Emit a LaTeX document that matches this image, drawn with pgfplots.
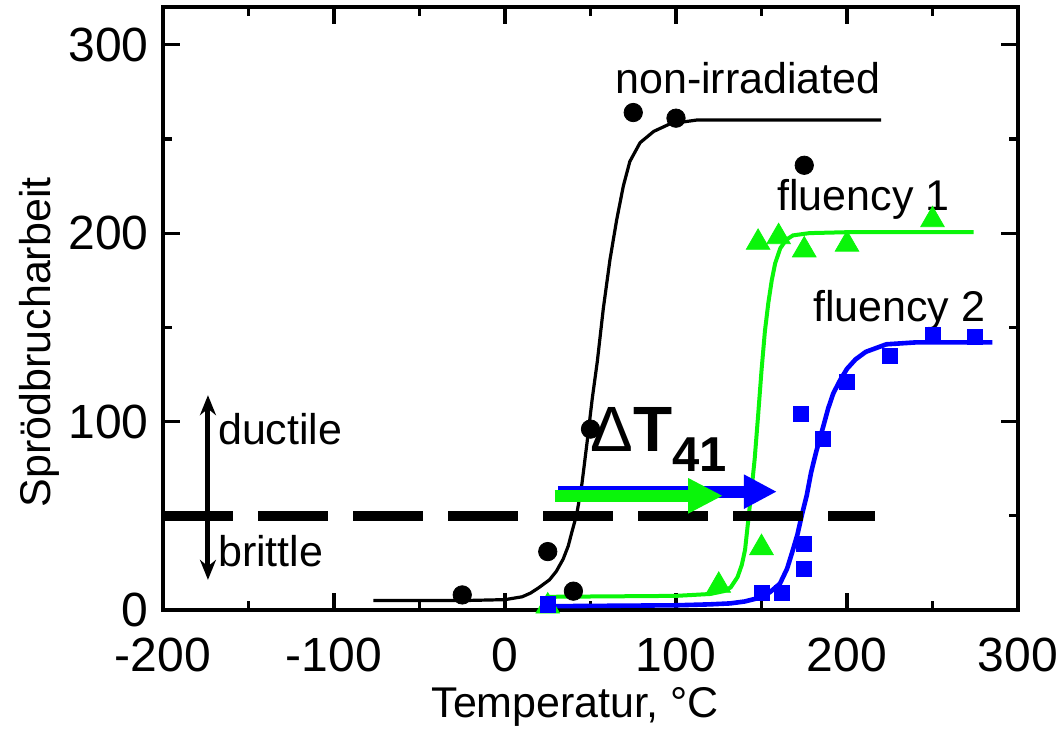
\documentclass[border=0pt]{standalone}
\usepackage{fontspec}
\setmainfont{Liberation Sans}
\usepackage{pgfplots}
\pgfplotsset{compat=1.18}
\usetikzlibrary{arrows.meta}
\definecolor{fgreen}{RGB}{10,245,10}
\definecolor{fblue}{RGB}{0,0,255}
\begin{document}
\begin{tikzpicture}
\path[use as bounding box] (-81.5pt,-59.5pt) rectangle (449pt,305pt);
\begin{axis}[
  at={(0,0)}, anchor=south west,
  scale only axis, width=427.5pt, height=301.5pt,
  xmin=-200, xmax=300, ymin=0, ymax=320,
  clip=false,
  axis line style={line width=2.2pt},
  xtick={-200,-100,0,100,200,300},
  xticklabels={-200,-100,0,100,200,300},
  minor xtick={-150,-50,50,150,250},
  ytick={0,100,200,300},
  yticklabels={0,100,200,300},
  minor ytick={50,150,250},
  tick align=inside,
  major tick length=8.5pt, minor tick length=4.5pt,
  every tick/.style={line width=1.6pt, black},
  xticklabel style={font=\fontsize{24}{24}\selectfont, inner sep=0pt, yshift=-14pt},
  yticklabel style={font=\fontsize{24}{24}\selectfont, inner sep=0pt, xshift=-7pt},
  xlabel={Temperatur, °C},
  xlabel style={at={(axis description cs:0.482,-0.179)}, anchor=base, font=\fontsize{21.5}{21.5}\selectfont, inner sep=0pt},
  ylabel={Sprödbrucharbeit},
  ylabel style={at={(axis description cs:-0.144,0.444)}, anchor=center, font=\fontsize{21.5}{21.5}\selectfont, inner sep=0pt},
]
% black curve (non-irradiated)
\addplot[black, line width=1.6pt] coordinates {
(-77,5) (-25,5) (0,5.5) (10,7) (15,9) (20,12) (26,16) (30,20.5) (34,27) (37,34) (39,41)
(42,51) (45,67) (48,89) (51,112) (54,132) (57.5,160) (61.4,186) (65.3,207) (69.2,225)
(73,238) (79,248) (87,254) (96.5,258) (112,260) (220,260)};
% green curve (fluency 1)
\addplot[fgreen, line width=2pt] coordinates {
(25,7) (100,7.5) (120,8.5) (128,10) (132,12) (136,17.5) (138.5,24) (140.4,32) (142.3,48)
(144.3,65) (146,80) (148,103) (150,127) (152,148) (154,163) (156,175) (158,184) (161,192)
(164.5,196.5) (168.4,198.8) (178,200) (200,200.5) (274,200.5)};
% blue curve (fluency 2)
\addplot[fblue, line width=2.3pt] coordinates {
(25,2) (100,2.5) (120,3) (131.6,3.5) (140,4.5) (149,6.5) (155,9.5) (160.8,14) (165,22)
(168.4,32) (171,40) (173.5,50) (176.5,61) (179,73) (182,84) (186,97) (189,107) (192,115)
(196,122) (200,128) (205,133) (211,137) (223,141) (240,142) (285,142)};
% black circles
\addplot[only marks, mark=*, mark size=4.6pt, black] coordinates {
(-25,8) (25,31) (40,10) (50,96) (75,264) (100,261) (175,236)};
% green triangles
\addplot[only marks, mark=triangle*, mark size=6.8pt, fgreen, mark options={draw=fgreen, fill=fgreen}] coordinates {
(25,2) (125,13) (150,33) (148,195) (160,198) (175,191) (200,194) (250,207)};
% blue squares
\addplot[only marks, mark=square*, mark size=3.8pt, fblue, mark options={draw=fblue, fill=fblue}] coordinates {
(25,3) (150,9) (162,9) (175,22) (175,35) (173,104) (186,91) (200,121) (225,135) (250,146) (275,145)};
% dashed threshold line
\draw[black, line width=5pt, dash pattern=on 35pt off 12.5pt] (axis cs:-200,50) -- (axis cs:216.4,50);
% ductile / brittle arrow
\draw[black, line width=2.5pt, {Stealth[length=10pt,width=8pt]}-{Stealth[length=10pt,width=8pt]}] (axis cs:-173.7,16) -- (axis cs:-173.7,114);
% shift arrows
\draw[fblue, line width=6pt, -{Triangle[length=16.5pt,width=16pt]}] (axis cs:31,62.8) -- (axis cs:159,62.8);
\draw[fgreen, line width=6pt, -{Triangle[length=17.5pt,width=16.5pt]}] (axis cs:29,60.6) -- (axis cs:127.5,60.6);
% labels
\node[anchor=base west, inner sep=0pt, font=\fontsize{21.5}{21.5}\selectfont] at (axis cs:64.3,274) {non-irradiated};
\node[anchor=base west, inner sep=0pt, font=\fontsize{21.5}{21.5}\selectfont] at (axis cs:159,212) {fluency 1};
\node[anchor=base west, inner sep=0pt, font=\fontsize{21.5}{21.5}\selectfont] at (axis cs:180,153) {fluency 2};
\node[anchor=base west, inner sep=0pt, font=\fontsize{21.5}{21.5}\selectfont] at (axis cs:-168,88) {ductile};
\node[anchor=base west, inner sep=0pt, font=\fontsize{21.5}{21.5}\selectfont] at (axis cs:-168,23) {brittle};
\node[anchor=base west, inner sep=0pt] at (axis cs:49.7,84) {\fontsize{32}{32}\selectfont Δ\textbf{T}\raisebox{-10pt}{\fontsize{24.5}{24.5}\selectfont\textbf{41}}};
\end{axis}
\end{tikzpicture}
\end{document}
